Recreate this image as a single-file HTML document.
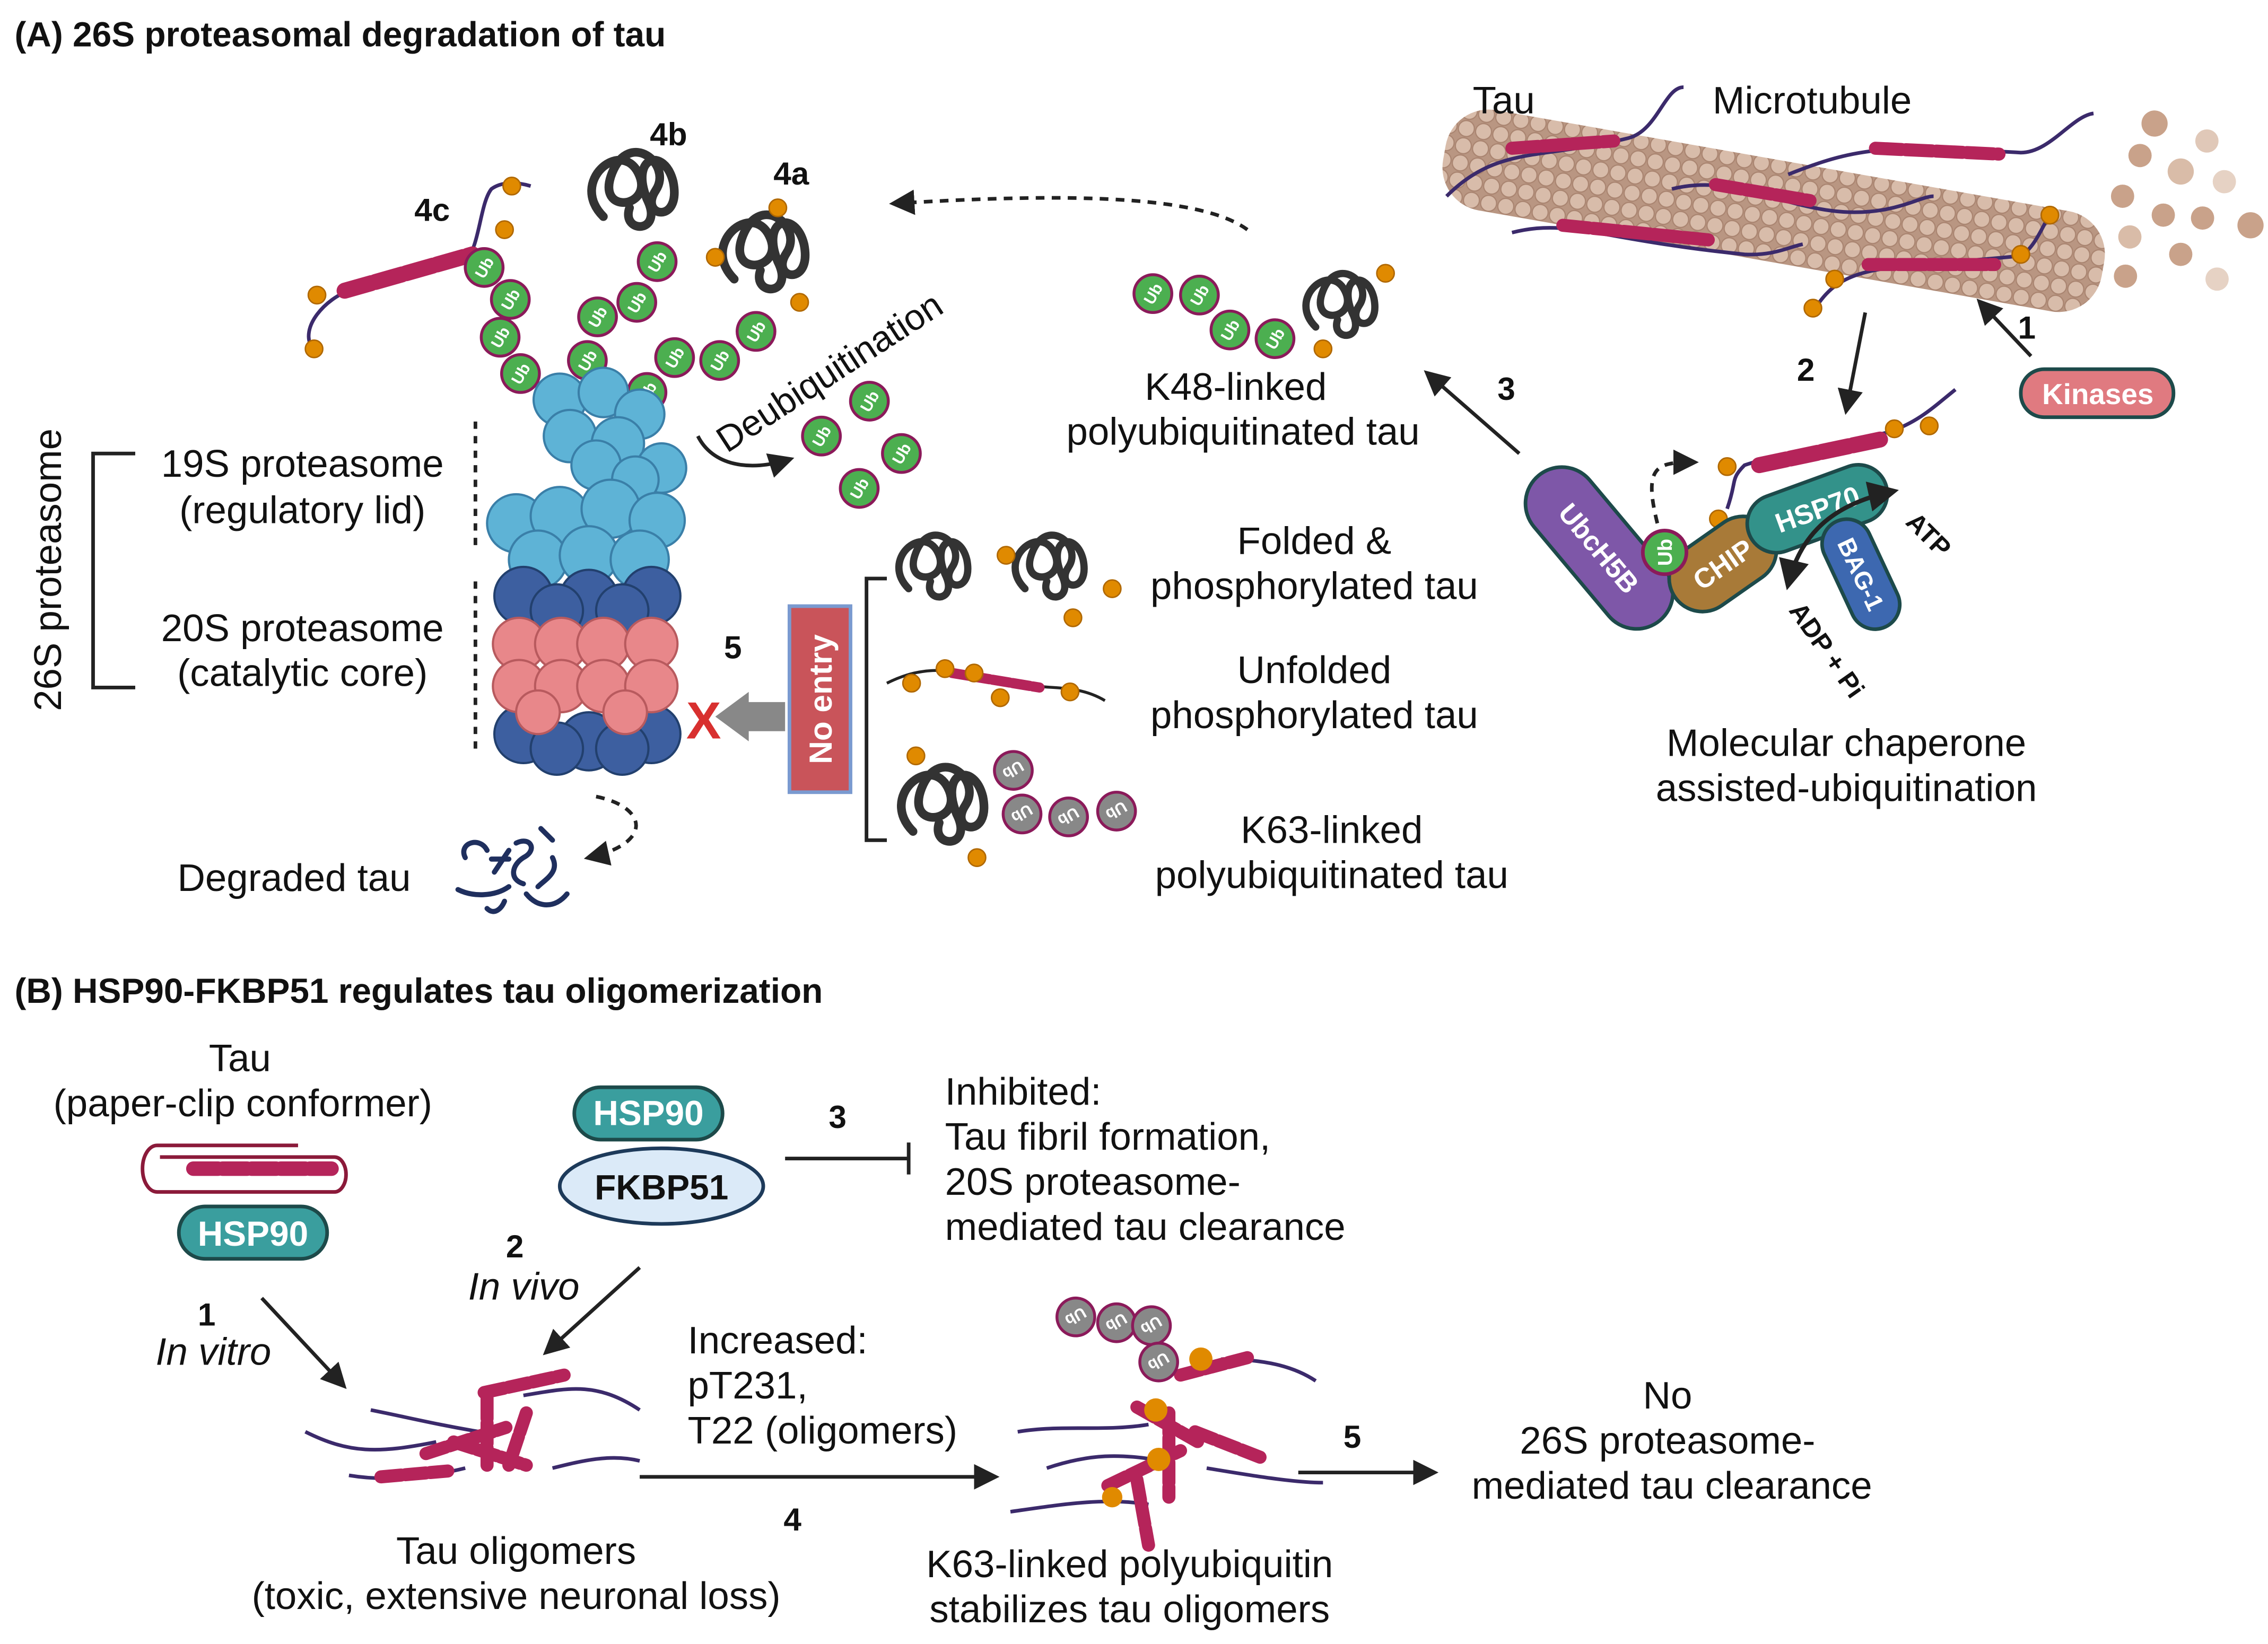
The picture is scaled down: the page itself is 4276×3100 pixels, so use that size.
<!DOCTYPE html>
<html><head><meta charset="utf-8"><style>
html,body{margin:0;padding:0;background:#fff}
svg{display:block}
text{font-family:"Liberation Sans",sans-serif;fill:#111}
.b{font-weight:bold}
.t{font-size:26.5px}
.ub{font-size:11px;font-weight:bold;fill:#fff}
</style></head><body>
<svg width="4276" height="3100" viewBox="0 0 1560 1131" xmlns="http://www.w3.org/2000/svg">
<defs>
<marker id="ah" viewBox="0 0 10 10" refX="8" refY="5" markerWidth="7" markerHeight="7" orient="auto-start-reverse"><path d="M0,0L10,5L0,10z" fill="#222"/></marker>
<pattern id="mt" width="12" height="12" patternUnits="userSpaceOnUse"><rect width="12" height="12" fill="#b99682"/><circle cx="6" cy="6" r="5.5" fill="#d8bcaa" stroke="#a98470" stroke-width="0.8"/></pattern>
<g id="ubg"><circle r="13" fill="#4caf50" stroke="#8b1a5a" stroke-width="2"/><text class="ub" text-anchor="middle" y="4" transform="rotate(-60)">Ub</text></g>
<g id="ubx"><circle r="13" fill="#888" stroke="#8b1a5a" stroke-width="2"/><text class="ub" text-anchor="middle" y="4" transform="rotate(150)">Ub</text></g>
<g id="p"><circle r="6" fill="#e08a00" stroke="#b06800"/></g>
<g id="tang" fill="none" stroke="#333" stroke-width="5" stroke-linecap="round"><path d="M0,20 C-20,0 10,-25 20,-5 C30,15 -5,20 5,-5 C15,-30 40,-10 30,5 C20,20 45,25 40,0 C35,-20 15,-15 25,10 C35,30 10,30 15,15"/></g>
</defs>

<text x="10" y="32" class="b" font-size="24">(A) 26S proteasomal degradation of tau</text>

<g transform="rotate(10 1220 145)">
<rect x="990" y="110" width="460" height="70" rx="30" fill="url(#mt)"/>
</g>
<g fill="#c9a28a"><circle cx="1482" cy="85" r="9"/><circle cx="1518" cy="97" r="8" fill="#e0c8b8"/><circle cx="1472" cy="107" r="8"/><circle cx="1500" cy="118" r="9" fill="#d9bca8"/><circle cx="1460" cy="135" r="8"/><circle cx="1530" cy="125" r="8" fill="#e6d2c4"/><circle cx="1488" cy="148" r="8"/><circle cx="1515" cy="150" r="8"/><circle cx="1548" cy="155" r="9"/><circle cx="1465" cy="163" r="8" fill="#d9bca8"/><circle cx="1500" cy="175" r="8"/><circle cx="1462" cy="190" r="8"/><circle cx="1525" cy="192" r="8" fill="#e6d2c4"/></g>
<text x="1013" y="78" class="t">Tau</text>
<text x="1178" y="78" class="t">Microtubule</text>
<g fill="none" stroke="#3b2a6b" stroke-width="2.5">
<path d="M995,135 C1030,100 1060,110 1120,95 C1140,90 1145,60 1158,60"/>
<path d="M1230,120 C1280,100 1300,100 1390,105 C1410,105 1425,80 1440,78"/>
<path d="M1040,160 C1080,150 1100,165 1200,175 C1220,176 1230,170 1240,168"/>
<path d="M1250,210 C1270,180 1300,185 1390,176 C1400,170 1405,155 1410,148"/>
<path d="M1150,130 C1190,120 1220,140 1260,145 C1300,150 1320,135 1330,135"/>
</g>
<g stroke="#b5245a" stroke-width="9" stroke-dasharray="18,3" stroke-linecap="round">
<line x1="1040" y1="102" x2="1110" y2="97"/><line x1="1290" y1="102" x2="1375" y2="106"/><line x1="1075" y1="155" x2="1175" y2="165"/><line x1="1285" y1="182" x2="1372" y2="182"/><line x1="1180" y1="127" x2="1245" y2="138"/></g>
<use href="#p" x="1247" y="212"/><use href="#p" x="1262" y="192"/><use href="#p" x="1390" y="175"/><use href="#p" x="1410" y="148"/>

<rect x="1390" y="254" width="105" height="33" rx="16" fill="#e07a80" stroke="#1d4a4a" stroke-width="2.5"/>
<text x="1443" y="278" text-anchor="middle" class="b" font-size="20" style="fill:#fff">Kinases</text>
<line x1="1397" y1="245" x2="1362" y2="208" stroke="#222" stroke-width="2.5" marker-end="url(#ah)"/>
<text x="1388" y="233" class="b" font-size="22">1</text>
<line x1="1283" y1="215" x2="1270" y2="282" stroke="#222" stroke-width="2.5" marker-end="url(#ah)"/>
<text x="1236" y="262" class="b" font-size="22">2</text>
<line x1="1045" y1="312" x2="982" y2="257" stroke="#222" stroke-width="2.5" marker-end="url(#ah)"/>
<text x="1030" y="275" class="b" font-size="22">3</text>

<path d="M1140,360 C1130,320 1140,318 1165,318" fill="none" stroke="#222" stroke-width="2.5" stroke-dasharray="6,5" marker-end="url(#ah)"/>
<path d="M1188,350 C1195,330 1190,330 1200,320 C1230,310 1250,310 1300,297 C1320,290 1330,280 1345,268" fill="none" stroke="#3b2a6b" stroke-width="2.5"/>
<line x1="1210" y1="320" x2="1295" y2="302" stroke="#b5245a" stroke-width="11" stroke-dasharray="19,3" stroke-linecap="round"/>
<use href="#p" x="1188" y="321"/><use href="#p" x="1182" y="357"/><use href="#p" x="1303" y="295"/><use href="#p" x="1327" y="293"/>
<rect x="1035" y="352" width="130" height="50" rx="25" fill="#7e57a8" stroke="#1d4a4a" stroke-width="2.5" transform="rotate(50 1100 377)"/>
<text x="1100" y="384" text-anchor="middle" class="b" font-size="19" style="fill:#fff" transform="rotate(50 1100 377)">UbcH5B</text>
<rect x="1145" y="365" width="80" height="46" rx="23" fill="#a87a38" stroke="#1d4a4a" stroke-width="2.5" transform="rotate(-35 1185 388)"/>
<text x="1185" y="395" text-anchor="middle" class="b" font-size="19" style="fill:#fff" transform="rotate(-35 1185 388)">CHIP</text>
<rect x="1200" y="330" width="100" height="40" rx="20" fill="#33928a" stroke="#1d4a4a" stroke-width="2.5" transform="rotate(-20 1250 350)"/>
<text x="1250" y="357" text-anchor="middle" class="b" font-size="19" style="fill:#fff" transform="rotate(-20 1250 350)">HSP70</text>
<rect x="1240" y="378" width="80" height="34" rx="17" fill="#3d68b0" stroke="#1d4a4a" stroke-width="2.5" transform="rotate(65 1280 395)"/>
<text x="1280" y="401" text-anchor="middle" class="b" font-size="17" style="fill:#fff" transform="rotate(65 1280 395)">BAG-1</text>
<circle cx="1145" cy="380" r="15" fill="#4caf50" stroke="#8b1a5a" stroke-width="2.5"/>
<text x="1145" y="385" text-anchor="middle" class="b" font-size="14" style="fill:#fff" transform="rotate(-90 1145 380)">Ub</text>
<path d="M1230,402 C1240,360 1270,345 1302,338" fill="none" stroke="#222" stroke-width="3" marker-start="url(#ah)" marker-end="url(#ah)"/>
<text x="1310" y="360" class="b" font-size="18" transform="rotate(45 1310 360)">ATP</text>
<text x="1230" y="420" class="b" font-size="18" transform="rotate(55 1230 420)">ADP + Pi</text>
<text x="1270" y="520" text-anchor="middle" class="t">Molecular chaperone</text>
<text x="1270" y="551" text-anchor="middle" class="t">assisted-ubiquitination</text>

<use href="#ubg" x="793" y="202"/><use href="#ubg" x="825" y="203"/><use href="#ubg" x="846" y="227"/><use href="#ubg" x="877" y="233"/>
<use href="#tang" x="905" y="205"/>
<use href="#p" x="953" y="188"/><use href="#p" x="910" y="240"/>
<text x="850" y="275" text-anchor="middle" class="t">K48-linked</text>
<text x="855" y="306" text-anchor="middle" class="t">polyubiquitinated tau</text>
<path d="M858,158 C820,130 700,135 615,140" fill="none" stroke="#222" stroke-width="2.5" stroke-dasharray="6,5" marker-end="url(#ah)"/>

<text x="285" y="152" class="b" font-size="22">4c</text>
<text x="447" y="100" class="b" font-size="22">4b</text>
<text x="532" y="127" class="b" font-size="22">4a</text>
<path d="M215,240 C205,225 225,205 240,200 L320,180 C330,170 330,140 338,130 C345,125 355,125 365,128" fill="none" stroke="#3b2a6b" stroke-width="2.5"/>
<line x1="237" y1="200" x2="325" y2="175" stroke="#b5245a" stroke-width="11" stroke-dasharray="19,3" stroke-linecap="round"/>
<use href="#p" x="216" y="240"/><use href="#p" x="218" y="203"/><use href="#p" x="347" y="158"/><use href="#p" x="352" y="128"/>
<use href="#ubg" x="333" y="184"/><use href="#ubg" x="351" y="206"/><use href="#ubg" x="344" y="232"/><use href="#ubg" x="358" y="257"/>
<g transform="translate(415 125) scale(1.2)"><use href="#tang"/></g>
<use href="#ubg" x="452" y="180"/><use href="#ubg" x="438" y="208"/><use href="#ubg" x="411" y="218"/><use href="#ubg" x="404" y="248"/>
<g transform="translate(505 168) scale(1.2)"><use href="#tang"/></g>
<use href="#p" x="535" y="143"/><use href="#p" x="492" y="177"/><use href="#p" x="550" y="208"/>
<use href="#ubg" x="520" y="228"/><use href="#ubg" x="495" y="248"/><use href="#ubg" x="464" y="246"/><use href="#ubg" x="445" y="270"/>

<text x="500" y="312" font-size="25" transform="rotate(-33 500 312)">Deubiquitination</text>
<path d="M480,300 C490,320 515,325 543,316" fill="none" stroke="#222" stroke-width="2.5" marker-end="url(#ah)"/>
<use href="#ubg" x="565" y="300"/><use href="#ubg" x="598" y="276"/><use href="#ubg" x="620" y="312"/><use href="#ubg" x="591" y="336"/>

<g stroke="#3a7fa8" stroke-width="1.5" fill="#5eb3d6">
<circle cx="385" cy="275" r="18"/><circle cx="415" cy="270" r="17"/><circle cx="440" cy="285" r="17"/><circle cx="392" cy="300" r="18"/><circle cx="425" cy="305" r="18"/><circle cx="455" cy="322" r="17"/><circle cx="410" cy="320" r="17"/><circle cx="437" cy="330" r="16"/>
<circle cx="355" cy="360" r="20"/><circle cx="385" cy="355" r="20"/><circle cx="420" cy="350" r="20"/><circle cx="452" cy="358" r="19"/><circle cx="370" cy="385" r="20"/><circle cx="405" cy="382" r="20"/><circle cx="440" cy="385" r="20"/>
</g>
<g stroke="#22406e" stroke-width="1.5" fill="#3d5fa0">
<circle cx="360" cy="410" r="20"/><circle cx="405" cy="412" r="20"/><circle cx="448" cy="410" r="20"/><circle cx="383" cy="420" r="18"/><circle cx="428" cy="420" r="18"/>
<circle cx="360" cy="505" r="20"/><circle cx="405" cy="510" r="20"/><circle cx="448" cy="505" r="20"/><circle cx="383" cy="515" r="18"/><circle cx="428" cy="515" r="18"/>
</g>
<g stroke="#b85a5e" stroke-width="1.5" fill="#e8878a">
<circle cx="357" cy="443" r="18"/><circle cx="386" cy="443" r="18"/><circle cx="415" cy="443" r="18"/><circle cx="448" cy="443" r="18"/>
<circle cx="357" cy="472" r="18"/><circle cx="386" cy="472" r="18"/><circle cx="415" cy="472" r="18"/><circle cx="448" cy="472" r="18"/>
<circle cx="370" cy="490" r="15"/><circle cx="430" cy="490" r="15"/>
</g>
<line x1="327" y1="290" x2="327" y2="380" stroke="#222" stroke-width="2.5" stroke-dasharray="5,5"/>
<line x1="327" y1="400" x2="327" y2="515" stroke="#222" stroke-width="2.5" stroke-dasharray="5,5"/>
<text x="208" y="328" text-anchor="middle" class="t">19S proteasome</text>
<text x="208" y="360" text-anchor="middle" class="t">(regulatory lid)</text>
<text x="208" y="441" text-anchor="middle" class="t">20S proteasome</text>
<text x="208" y="472" text-anchor="middle" class="t">(catalytic core)</text>
<path d="M93,312 H64 V473 H93" fill="none" stroke="#222" stroke-width="2.5"/>
<text x="42" y="392" text-anchor="middle" class="t" transform="rotate(-90 42 392)">26S proteasome</text>

<path d="M410,548 C445,555 450,580 405,590" fill="none" stroke="#222" stroke-width="2.5" stroke-dasharray="6,5" marker-end="url(#ah)"/>
<g fill="none" stroke="#1f2f5e" stroke-width="3.5" stroke-linecap="round"><path d="M320,590 c-5,-10 10,-15 15,-5"/><path d="M340,600 l10,-15 m-12,6 h12"/><path d="M355,580 c10,-5 15,5 5,10 c-8,5 -10,15 0,18"/><path d="M380,590 c5,10 -5,15 -10,20"/><path d="M315,612 c10,5 25,5 35,-2"/><path d="M335,625 c5,5 10,0 12,-5"/><path d="M362,615 c8,10 20,10 28,0"/><path d="M372,570 l8,8"/></g>
<text x="122" y="613" class="t">Degraded tau</text>

<text x="498" y="453" class="b" font-size="22">5</text>
<text x="472" y="508" class="b" font-size="36" style="fill:#d8302f">X</text>
<path d="M540,483 V503 H515 V510 L492,493 L515,476 V483 Z" fill="#888"/>
<rect x="543" y="417" width="42" height="128" fill="#c9545a" stroke="#7a9ad0" stroke-width="2.5"/>
<text x="572" y="481" text-anchor="middle" class="b" font-size="22" style="fill:#fff" transform="rotate(-90 572 481)">No entry</text>
<path d="M610,398 H596 V578 H610" fill="none" stroke="#222" stroke-width="2.5"/>
<use href="#tang" x="625" y="385"/><use href="#tang" x="705" y="385"/>
<use href="#p" x="692" y="382"/><use href="#p" x="765" y="405"/><use href="#p" x="738" y="425"/>
<path d="M610,470 C640,455 660,462 700,470 C720,475 740,470 760,482" fill="none" stroke="#222" stroke-width="2"/>
<line x1="655" y1="463" x2="715" y2="473" stroke="#b5245a" stroke-width="7" stroke-dasharray="12,2" stroke-linecap="round"/>
<use href="#p" x="627" y="470"/><use href="#p" x="650" y="460"/><use href="#p" x="670" y="463"/><use href="#p" x="688" y="480"/><use href="#p" x="736" y="476"/>
<g transform="translate(628 548) scale(1.2)"><use href="#tang"/></g>
<use href="#ubx" x="697" y="530"/><use href="#ubx" x="703" y="560"/><use href="#ubx" x="735" y="562"/><use href="#ubx" x="768" y="558"/>
<use href="#p" x="630" y="520"/><use href="#p" x="672" y="590"/>
<text x="904" y="381" text-anchor="middle" class="t">Folded &amp;</text>
<text x="904" y="412" text-anchor="middle" class="t">phosphorylated tau</text>
<text x="904" y="470" text-anchor="middle" class="t">Unfolded</text>
<text x="904" y="501" text-anchor="middle" class="t">phosphorylated tau</text>
<text x="916" y="580" text-anchor="middle" class="t">K63-linked</text>
<text x="916" y="611" text-anchor="middle" class="t">polyubiquitinated tau</text>

<!-- Part B -->
<text x="10" y="690" class="b" font-size="24">(B) HSP90-FKBP51 regulates tau oligomerization</text>
<text x="165" y="737" text-anchor="middle" class="t">Tau</text>
<text x="167" y="768" text-anchor="middle" class="t">(paper-clip conformer)</text>
<path d="M205,788 H108 a10,16 0 0 0 0,32 H230 a8,12 0 0 0 0,-24 H110" fill="none" stroke="#8b1a3a" stroke-width="2.5"/>
<line x1="133" y1="804" x2="228" y2="804" stroke="#b5245a" stroke-width="10" stroke-dasharray="17,3" stroke-linecap="round"/>
<rect x="123" y="830" width="102" height="36" rx="18" fill="#3a9e9e" stroke="#1d4a4a" stroke-width="2.5"/>
<text x="174" y="857" text-anchor="middle" class="b" font-size="24" style="fill:#fff">HSP90</text>

<rect x="395" y="748" width="102" height="36" rx="18" fill="#3a9e9e" stroke="#1d4a4a" stroke-width="2.5"/>
<text x="446" y="774" text-anchor="middle" class="b" font-size="24" style="fill:#fff">HSP90</text>
<ellipse cx="455" cy="816" rx="70" ry="26" fill="#dbeaf8" stroke="#1d3a5a" stroke-width="2.5"/>
<text x="455" y="825" text-anchor="middle" class="b" font-size="24">FKBP51</text>
<line x1="540" y1="797" x2="625" y2="797" stroke="#222" stroke-width="2.5"/>
<line x1="625" y1="786" x2="625" y2="808" stroke="#222" stroke-width="2.5"/>
<text x="570" y="776" class="b" font-size="22">3</text>
<text x="650" y="760" class="t">Inhibited:</text>
<text x="650" y="791" class="t">Tau fibril formation,</text>
<text x="650" y="822" class="t">20S proteasome-</text>
<text x="650" y="853" class="t">mediated tau clearance</text>

<text x="348" y="865" class="b" font-size="22">2</text>
<text x="322" y="894" class="t" font-style="italic">In vivo</text>
<line x1="440" y1="872" x2="376" y2="930" stroke="#222" stroke-width="2.5" marker-end="url(#ah)"/>
<text x="136" y="912" class="b" font-size="22">1</text>
<text x="107" y="939" class="t" font-style="italic">In vitro</text>
<line x1="180" y1="893" x2="236" y2="953" stroke="#222" stroke-width="2.5" marker-end="url(#ah)"/>

<g fill="none" stroke="#3b2a6b" stroke-width="2.5"><path d="M210,985 C240,1000 260,1000 300,992"/><path d="M255,970 C280,975 300,980 330,985"/><path d="M360,960 C390,955 410,950 440,970"/><path d="M380,1010 C400,1005 420,1000 440,1005"/><path d="M240,1015 C270,1020 300,1015 320,1010"/></g>
<g stroke="#b5245a" stroke-width="9" stroke-dasharray="14,3" stroke-linecap="round">
<line x1="262" y1="1016" x2="308" y2="1012"/><line x1="293" y1="1000" x2="348" y2="982"/><line x1="333" y1="958" x2="388" y2="946"/><line x1="312" y1="992" x2="362" y2="1008"/><line x1="335" y1="962" x2="335" y2="1008"/><line x1="362" y1="972" x2="350" y2="1008"/></g>
<text x="355" y="1076" text-anchor="middle" class="t">Tau oligomers</text>
<text x="355" y="1107" text-anchor="middle" class="t">(toxic, extensive neuronal loss)</text>

<text x="473" y="931" class="t">Increased:</text>
<text x="473" y="962" class="t">pT231,</text>
<text x="473" y="993" class="t">T22 (oligomers)</text>
<line x1="440" y1="1016" x2="684" y2="1016" stroke="#222" stroke-width="2.5" marker-end="url(#ah)"/>
<text x="539" y="1053" class="b" font-size="22">4</text>

<g fill="none" stroke="#3b2a6b" stroke-width="2.5"><path d="M700,985 C730,980 760,985 790,980"/><path d="M840,935 C870,935 890,940 905,950"/><path d="M695,1040 C730,1035 760,1030 790,1035"/><path d="M830,1010 C860,1015 890,1020 910,1020"/><path d="M720,1010 C750,1000 770,1000 800,1005"/></g>
<g stroke="#b5245a" stroke-width="9" stroke-dasharray="14,3" stroke-linecap="round">
<line x1="762" y1="1022" x2="812" y2="998"/><line x1="804" y1="972" x2="804" y2="1030"/><line x1="812" y1="946" x2="858" y2="934"/><line x1="822" y1="985" x2="868" y2="1003"/><line x1="782" y1="1018" x2="790" y2="1063"/><line x1="782" y1="968" x2="826" y2="993"/></g>
<circle cx="826" cy="935" r="8" fill="#e08a00"/><circle cx="795" cy="970" r="8" fill="#e08a00"/><circle cx="797" cy="1004" r="8" fill="#e08a00"/><circle cx="765" cy="1030" r="7" fill="#e08a00"/>
<use href="#ubx" x="740" y="906"/><use href="#ubx" x="768" y="910"/><use href="#ubx" x="792" y="912"/><use href="#ubx" x="797" y="937"/>
<text x="777" y="1085" text-anchor="middle" class="t">K63-linked polyubiquitin</text>
<text x="777" y="1116" text-anchor="middle" class="t">stabilizes tau oligomers</text>

<line x1="893" y1="1013" x2="986" y2="1013" stroke="#222" stroke-width="2.5" marker-end="url(#ah)"/>
<text x="924" y="996" class="b" font-size="22">5</text>
<text x="1147" y="969" text-anchor="middle" class="t">No</text>
<text x="1147" y="1000" text-anchor="middle" class="t">26S proteasome-</text>
<text x="1150" y="1031" text-anchor="middle" class="t">mediated tau clearance</text>
</svg>
</body></html>
